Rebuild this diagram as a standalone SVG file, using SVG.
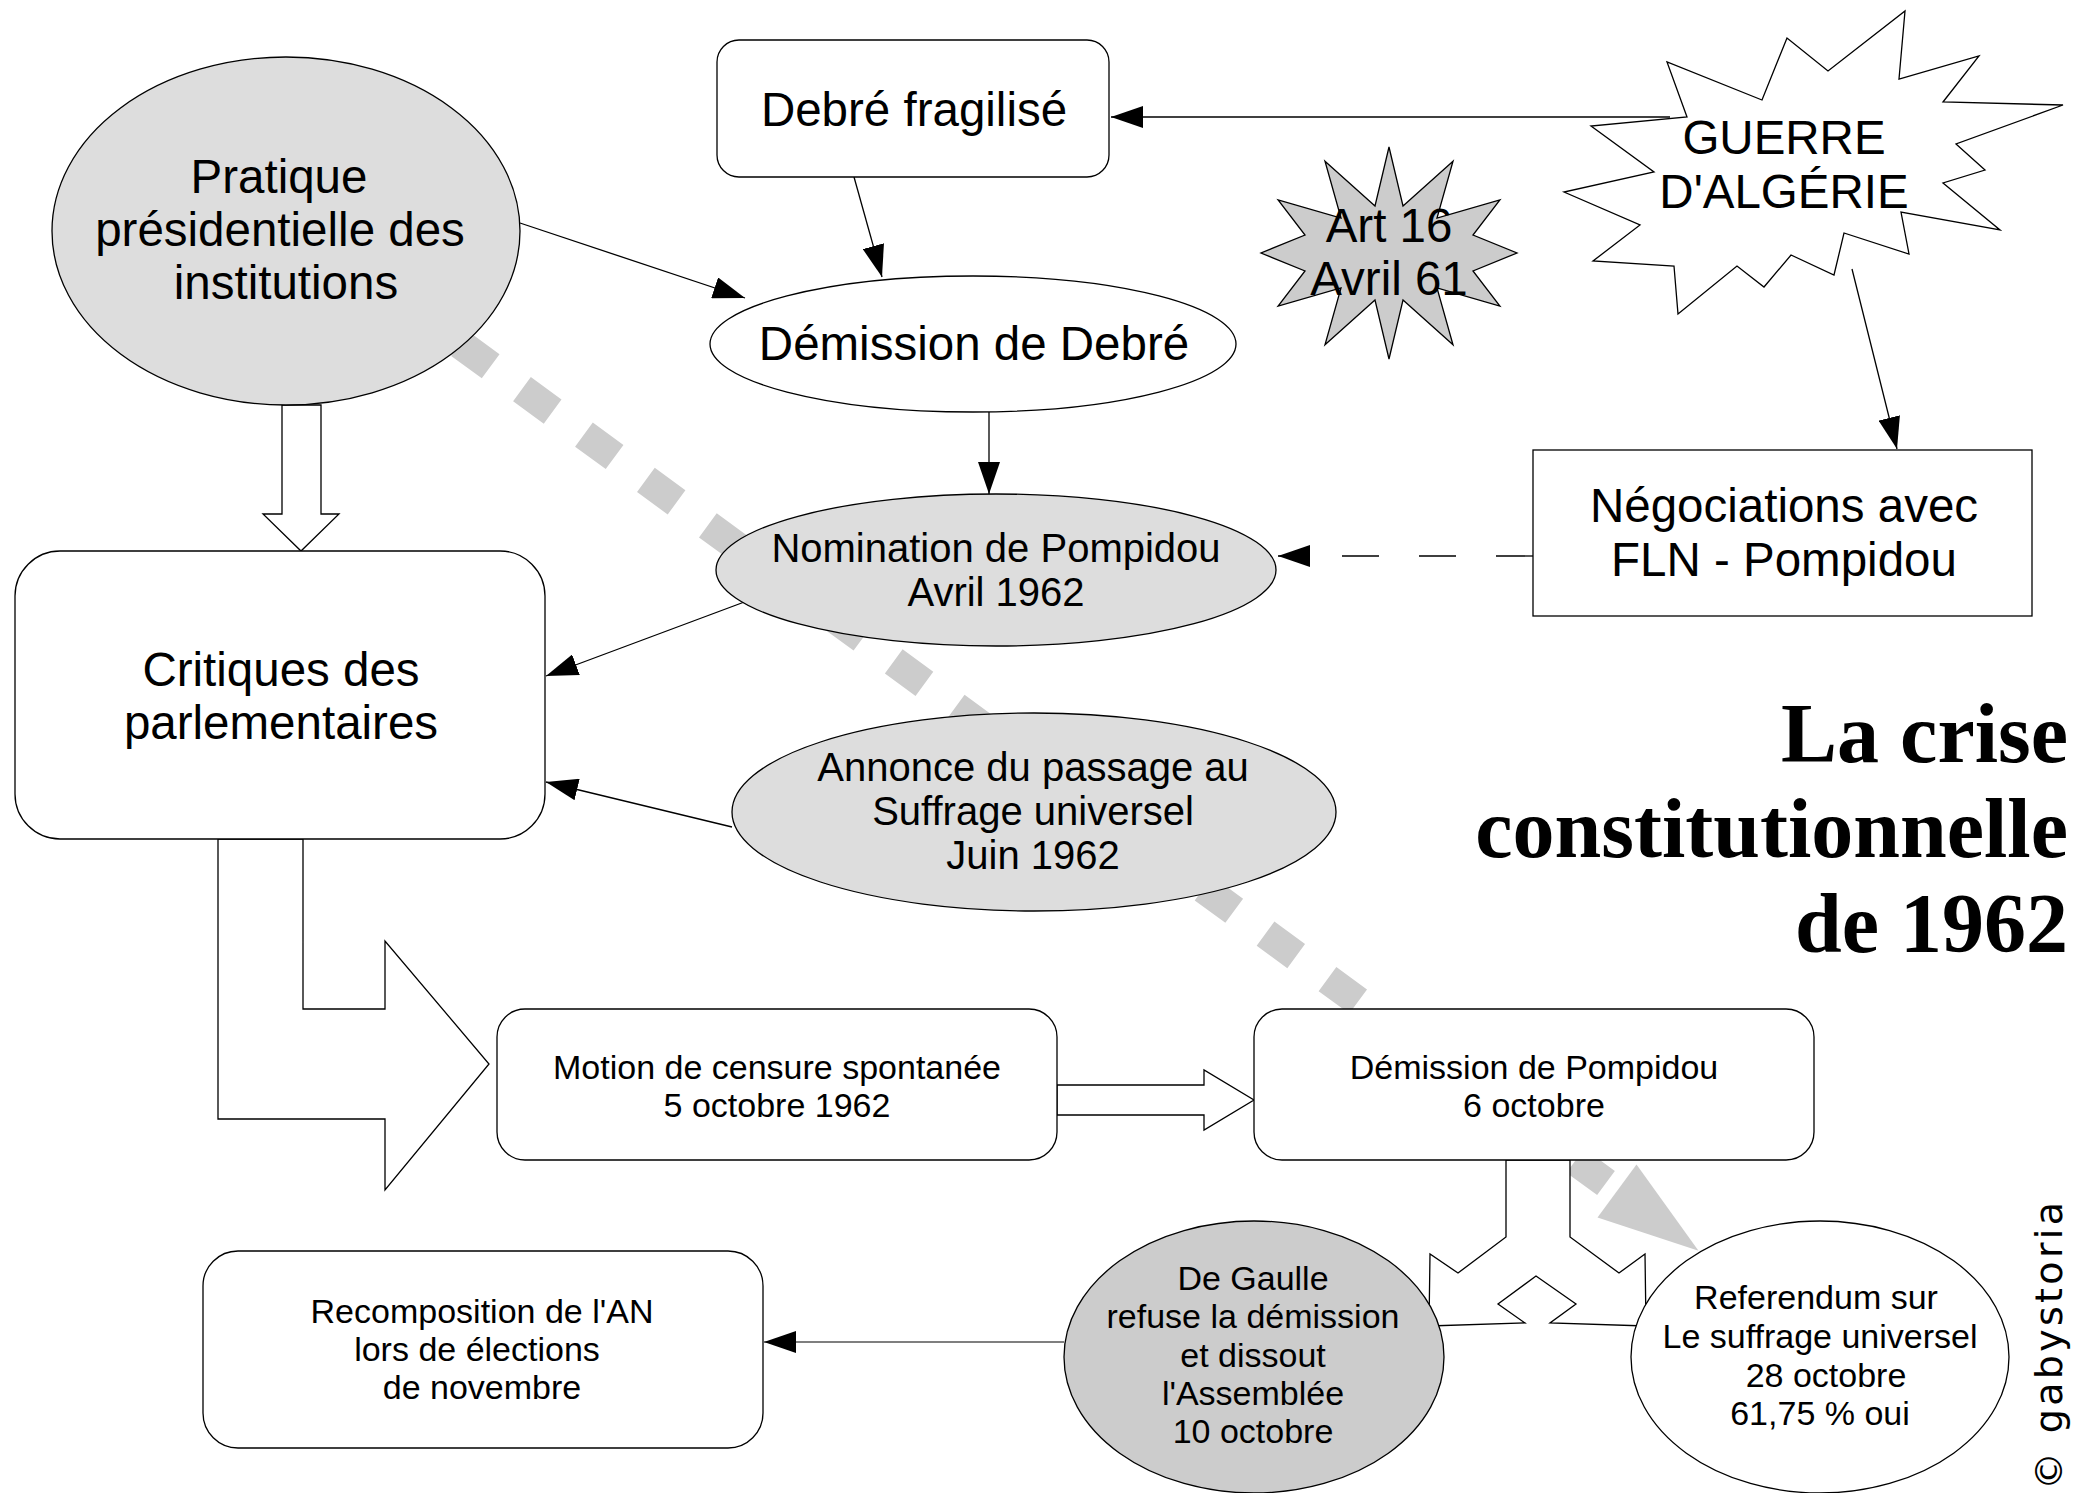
<svg xmlns="http://www.w3.org/2000/svg" width="2080" height="1493" viewBox="0 0 2080 1493">
<style>
  .nd { stroke: #000; stroke-width: 1.3; }
  .w { fill: #fff; }
  .g1 { fill: #dddddd; }
  .g2 { fill: #cccccc; }
  .ln { fill: none; stroke: #000; stroke-width: 1.3; }
  .blk { fill: #fff; stroke: #000; stroke-width: 1.3; stroke-linejoin: miter; }
  text { font-family: "Liberation Sans", Arial, sans-serif; fill: #000; text-anchor: middle; }
  .L { font-size: 47.5px; }
  .M { font-size: 40px; }
  .S { font-size: 34px; }
  .title { font-family: "Liberation Serif", "Times New Roman", serif; font-weight: bold; font-size: 84px; text-anchor: end; }
  .sig { font-family: "DejaVu Sans", sans-serif; font-size: 38px; text-anchor: start; }
</style>
<defs>
  <marker id="ah" markerUnits="userSpaceOnUse" markerWidth="32" markerHeight="22" viewBox="0 0 32 22" refX="32" refY="11" orient="auto">
    <path d="M0,0 L32,11 L0,22 Z" fill="#000"/>
  </marker>
</defs>

<g id="connectors">
  <!-- gray thick dashed connector from Pratique to Referendum -->
  <path d="M1606,1183 L395.8,296.8" fill="none" stroke="#cccccc" stroke-width="30" stroke-dasharray="38 38.8" stroke-linecap="butt"/>
  <polygon points="1636.5,1164.4 1597.5,1217.6 1698.5,1250.7" fill="#cccccc"/>

  <!-- thin arrows -->
  <line class="ln" x1="520" y1="223" x2="745" y2="298" marker-end="url(#ah)"/>
  <line class="ln" x1="854" y1="177" x2="882" y2="277" marker-end="url(#ah)"/>
  <line class="ln" x1="989" y1="412" x2="989" y2="494" marker-end="url(#ah)"/>
  <line class="ln" x1="1670" y1="117" x2="1111" y2="117" marker-end="url(#ah)"/>
  <line class="ln" x1="1852" y1="269" x2="1897" y2="449" marker-end="url(#ah)"/>
  <line class="ln" x1="1533" y1="556" x2="1278" y2="556" stroke-dasharray="37 40" marker-end="url(#ah)"/>
  <line class="ln" x1="747" y1="601" x2="546" y2="676" marker-end="url(#ah)"/>
  <line class="ln" x1="732" y1="827" x2="546" y2="782" marker-end="url(#ah)"/>
  <line x1="1064" y1="1342" x2="764" y2="1342" fill="none" stroke="#555" stroke-width="1.5" marker-end="url(#ah)"/>

  <!-- hollow block arrows -->
  <polygon class="blk" points="282,405 321,405 321,514 339,514 301,551 263,514 282,514"/>
  <polygon class="blk" points="303,839 218,839 218,1119 385,1119 385,1190 489,1064 385,941 385,1009 303,1009"/>
  <polygon class="blk" points="1057,1085 1204,1085 1204,1070 1254,1100 1204,1130 1204,1115 1057,1115"/>
  <polygon class="blk" points="1506,1160 1506,1237 1458,1273 1430,1254 1429,1326 1525,1323 1498,1304 1536,1276 1576,1304 1550,1323 1646,1326 1645,1254 1619,1273 1570,1237 1570,1160"/>
</g>

<g id="pratique">
  <ellipse class="nd g1" cx="286" cy="231" rx="234" ry="174"/>
  <text class="L" x="279" y="193">Pratique</text>
  <text class="L" x="280" y="246">présidentielle des</text>
  <text class="L" x="286" y="299">institutions</text>
</g>

<g id="debre-fragilise">
  <rect class="nd w" x="717" y="40" width="392" height="137" rx="22"/>
  <text class="L" x="914" y="126">Debré fragilisé</text>
</g>

<g id="demission-debre">
  <ellipse class="nd w" cx="973" cy="344" rx="263" ry="68"/>
  <text class="L" x="974" y="360">Démission de Debré</text>
</g>

<g id="art16">
  <polygon class="nd g2" points="1389,147 1403,206 1453,161.2 1437,218 1499.9,200 1473,235 1517,253 1473,271 1499.9,306 1437,288 1453,344.8 1403,300 1389,359 1375,300 1325,344.8 1341,288 1278.1,306 1305,271 1261,253 1305,235 1278.1,200 1341,218 1325,161.2 1375,206"/>
  <text class="L" x="1389" y="242">Art 16</text>
  <text class="L" x="1389" y="295">Avril 61</text>
</g>

<g id="guerre">
  <polygon class="nd w" points="1905,11 1899,79 1979,56 1943,102 2063,105 1956,144 1985,170 1943,183 2000,230 1901,212 1909,254 1844,233 1834,275 1791,255 1764,287 1737,266 1678,314 1674,266 1593,261 1640,225 1564,192 1654,172 1591,126 1687,117 1667,62 1762,100 1787,38 1828,71"/>
  <text class="L" x="1784" y="154">GUERRE</text>
  <text class="L" x="1784" y="208">D'ALGÉRIE</text>
</g>

<g id="negociations">
  <rect class="nd w" x="1533" y="450" width="499" height="166"/>
  <text class="L" x="1784" y="522">Négociations avec</text>
  <text class="L" x="1784" y="576">FLN - Pompidou</text>
</g>

<g id="nomination">
  <ellipse class="nd g1" cx="996" cy="570" rx="280" ry="76"/>
  <text class="M" x="996" y="562">Nomination de Pompidou</text>
  <text class="M" x="996" y="606">Avril 1962</text>
</g>

<g id="critiques">
  <rect class="nd w" x="15" y="551" width="530" height="288" rx="45"/>
  <text class="L" x="281" y="686">Critiques des</text>
  <text class="L" x="281" y="739">parlementaires</text>
</g>

<g id="annonce">
  <ellipse class="nd g1" cx="1034" cy="812" rx="302" ry="99"/>
  <text class="M" x="1033" y="781">Annonce du passage au</text>
  <text class="M" x="1033" y="825">Suffrage universel</text>
  <text class="M" x="1033" y="869">Juin 1962</text>
</g>

<g id="motion">
  <rect class="nd w" x="497" y="1009" width="560" height="151" rx="28"/>
  <text class="S" x="777" y="1079">Motion de censure spontanée</text>
  <text class="S" x="777" y="1117">5 octobre 1962</text>
</g>

<g id="demission-pompidou">
  <rect class="nd w" x="1254" y="1009" width="560" height="151" rx="28"/>
  <text class="S" x="1534" y="1079">Démission de Pompidou</text>
  <text class="S" x="1534" y="1117">6 octobre</text>
</g>

<g id="recomposition">
  <rect class="nd w" x="203" y="1251" width="560" height="197" rx="35"/>
  <text class="S" x="482" y="1323">Recomposition de l'AN</text>
  <text class="S" x="477" y="1361">lors de élections</text>
  <text class="S" x="482" y="1399">de novembre</text>
</g>

<g id="de-gaulle">
  <ellipse class="nd g2" cx="1254" cy="1357" rx="190" ry="136"/>
  <text class="S" x="1253" y="1290">De Gaulle</text>
  <text class="S" x="1253" y="1328">refuse la démission</text>
  <text class="S" x="1253" y="1367">et dissout</text>
  <text class="S" x="1253" y="1405">l'Assemblée</text>
  <text class="S" x="1253" y="1443">10 octobre</text>
</g>

<g id="referendum">
  <ellipse class="nd w" cx="1820" cy="1357" rx="189" ry="136"/>
  <text class="S" x="1816" y="1309">Referendum sur</text>
  <text class="S" x="1820" y="1348">Le suffrage universel</text>
  <text class="S" x="1826" y="1387">28 octobre</text>
  <text class="S" x="1820" y="1425">61,75 % oui</text>
</g>

<g id="title">
  <text class="title" x="2068" y="762">La crise</text>
  <text class="title" x="2068" y="857">constitutionnelle</text>
  <text class="title" x="2068" y="952">de 1962</text>
</g>

<g id="signature">
  <text class="sig" transform="translate(2062,1490) rotate(-90)" textLength="288" lengthAdjust="spacing">© gabystoria</text>
</g>
</svg>
